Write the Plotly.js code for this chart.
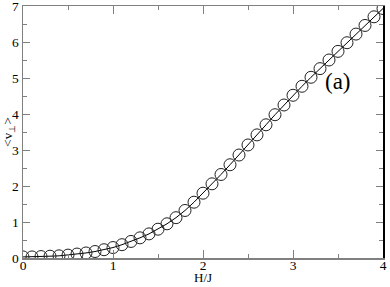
<!DOCTYPE html>
<html>
<head>
<meta charset="utf-8">
<script src="https://cdn.plot.ly/plotly-3.0.1.min.js"></script>
<style>html,body{margin:0;padding:0;background:#fff;}#chart{width:390px;height:287px;}</style>
</head>
<body>
<div id="chart"></div>
<script>
var hOverJ = [0.0,0.1,0.2,0.3,0.4,0.5,0.6,0.7,0.8,0.9,1.0,1.1,1.2,1.3,1.4,1.5,1.6,1.7,1.8,1.9,2.0,2.1,2.2,2.3,2.4,2.5,2.6,2.7,2.8,2.9,3.0,3.1,3.2,3.3,3.4,3.5,3.6,3.7,3.8,3.9,4.0];
var vPerp = [0.03,0.03,0.04,0.05,0.06,0.08,0.11,0.14,0.18,0.23,0.29,0.37,0.46,0.56,0.67,0.80,0.95,1.12,1.32,1.55,1.80,2.06,2.32,2.59,2.86,3.14,3.42,3.70,3.98,4.25,4.52,4.77,5.02,5.26,5.50,5.74,5.98,6.22,6.46,6.70,6.93];
var xTickVals = [0,1,2,3,4];
var yTickVals = [0,1,2,3,4,5,6,7];
var panelLabel = "(a)";
var xTitle = "H/J";
var yTitle = "&lt;v<sub>⊥</sub>&gt;";

var fam = "'Liberation Serif', 'Times New Roman', serif";
function mkFont(sz) { return {family: fam, size: sz, color: "#000"}; }
var axisGrey = "#808080";

var trace = {
  x: hOverJ, y: vPerp, type: "scatter", mode: "lines+markers",
  line: {color: "#000", width: 1},
  marker: {symbol: "circle-open", size: 12, color: "#222", line: {width: 1, color: "#222"}},
  showlegend: false, hoverinfo: "none"
};
var trace2 = {x: [0], y: [0], yaxis: "y2", mode: "markers", marker: {opacity: 0}, showlegend: false, hoverinfo: "none"};

var layout = {
  width: 390, height: 287,
  margin: {l: 23, r: 7, t: 6, b: 29},
  paper_bgcolor: "#fff", plot_bgcolor: "#fff",
  font: mkFont(13.5),
  xaxis: {
    range: [0, 4], tickvals: xTickVals, ticktext: xTickVals.map(String),
    ticks: "inside", ticklen: 8, tickwidth: 1, tickcolor: axisGrey,
    showline: true, linecolor: axisGrey, linewidth: 1.5, mirror: "ticks",
    showgrid: false, zeroline: false,
    minor: {dtick: 0.5, tick0: 0, ticks: "inside", ticklen: 4, tickcolor: axisGrey, showgrid: false},
    tickfont: mkFont(13.5), ticklabelstandoff: -6, ticklabeloverflow: "allow"
  },
  yaxis: {
    range: [0, 7], tickvals: yTickVals, ticktext: yTickVals.map(String),
    ticks: "inside", ticklen: 7, tickwidth: 1, tickcolor: axisGrey,
    showline: true, linecolor: axisGrey, linewidth: 1.5, mirror: "ticks",
    showgrid: false, zeroline: false,
    minor: {dtick: 0.5, tick0: 0, ticks: "inside", ticklen: 4, tickcolor: axisGrey, showgrid: false},
    tickfont: mkFont(13.5), ticklabelstandoff: 0, ticklabeloverflow: "allow",
    title: {text: yTitle, font: mkFont(13.5), standoff: 0}
  },
  yaxis2: {
    overlaying: "y", side: "right", matches: "y", range: [0, 7],
    showline: true, linecolor: "#000", linewidth: 1.5,
    showticklabels: false, ticks: "", showgrid: false, zeroline: false
  },
  annotations: [
    {text: panelLabel, x: 3.5, y: 4.89, xref: "x", yref: "y", showarrow: false,
     font: mkFont(23)},
    {text: xTitle, x: 0.5, y: -0.078, xref: "paper", yref: "paper", showarrow: false,
     yanchor: "middle", borderpad: 0, font: mkFont(13)}
  ]
};
Plotly.newPlot("chart", [trace, trace2], layout, {staticPlot: true, displayModeBar: false});
</script>
</body>
</html>
